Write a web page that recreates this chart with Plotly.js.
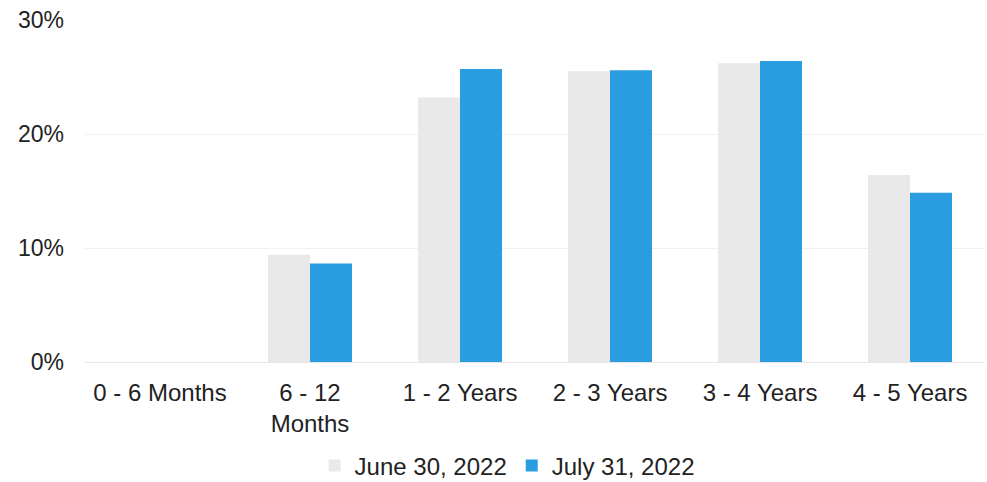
<!DOCTYPE html>
<html><head><meta charset="utf-8">
<script src="https://cdn.plot.ly/plotly-3.0.1.min.js"></script>
<style>html,body{margin:0;padding:0;background:#fff;}#chart{width:987px;height:482px;}</style>
</head><body><div id="chart"></div>
<script>
const categories = ["0 - 6 Months", "6 - 12<br>Months", "1 - 2 Years", "2 - 3 Years", "3 - 4 Years", "4 - 5 Years"];
const june2022 = [0, 9.4, 23.2, 25.5, 26.2, 16.4];
const july2022 = [0, 8.65, 25.7, 25.6, 26.4, 14.85];
const seriesNames = ["June 30, 2022", "July 31, 2022"];
const yTickVals = [0, 10, 20, 30];
const yTickText = ["0%", "10%", "20%", "30%"];

const traces = [
  {type: "bar", x: categories, y: june2022, name: seriesNames[0], marker: {color: "#e9e9e9"}, hoverinfo: "skip"},
  {type: "bar", x: categories, y: july2022, name: seriesNames[1], marker: {color: "#2a9de0"}, hoverinfo: "skip"}
];
const layout = {
  width: 987, height: 482,
  margin: {l: 85, r: 2, t: 20, b: 120},
  paper_bgcolor: "#ffffff", plot_bgcolor: "#ffffff",
  font: {family: "Liberation Sans, Arial, sans-serif", size: 24, color: "#222222"},
  barmode: "group", bargap: 0.44, bargroupgap: 0,
  xaxis: {type: "category", automargin: false, showgrid: false, zeroline: false, showline: false, ticks: "", ticklabelstandoff: 14, tickfont: {size: 24, color: "#222"}},
  yaxis: {range: [0, 30], automargin: false, tickvals: yTickVals, ticktext: yTickText, showgrid: true, gridcolor: "#f0f0f0", gridwidth: 1,
          zeroline: true, zerolinecolor: "#e6e6e6", showline: false, ticks: "", ticklabelstandoff: 20, tickfont: {size: 23, color: "#222"}},
  showlegend: true,
  legend: {orientation: "h", xref: "paper", x: 0.469, xanchor: "center", yref: "container", y: 0.08, yanchor: "top", font: {size: 24, color: "#222"}, itemwidth: 30, traceorder: "normal"}
};
Plotly.newPlot("chart", traces, layout, {staticPlot: true, displayModeBar: false});
</script></body></html>
